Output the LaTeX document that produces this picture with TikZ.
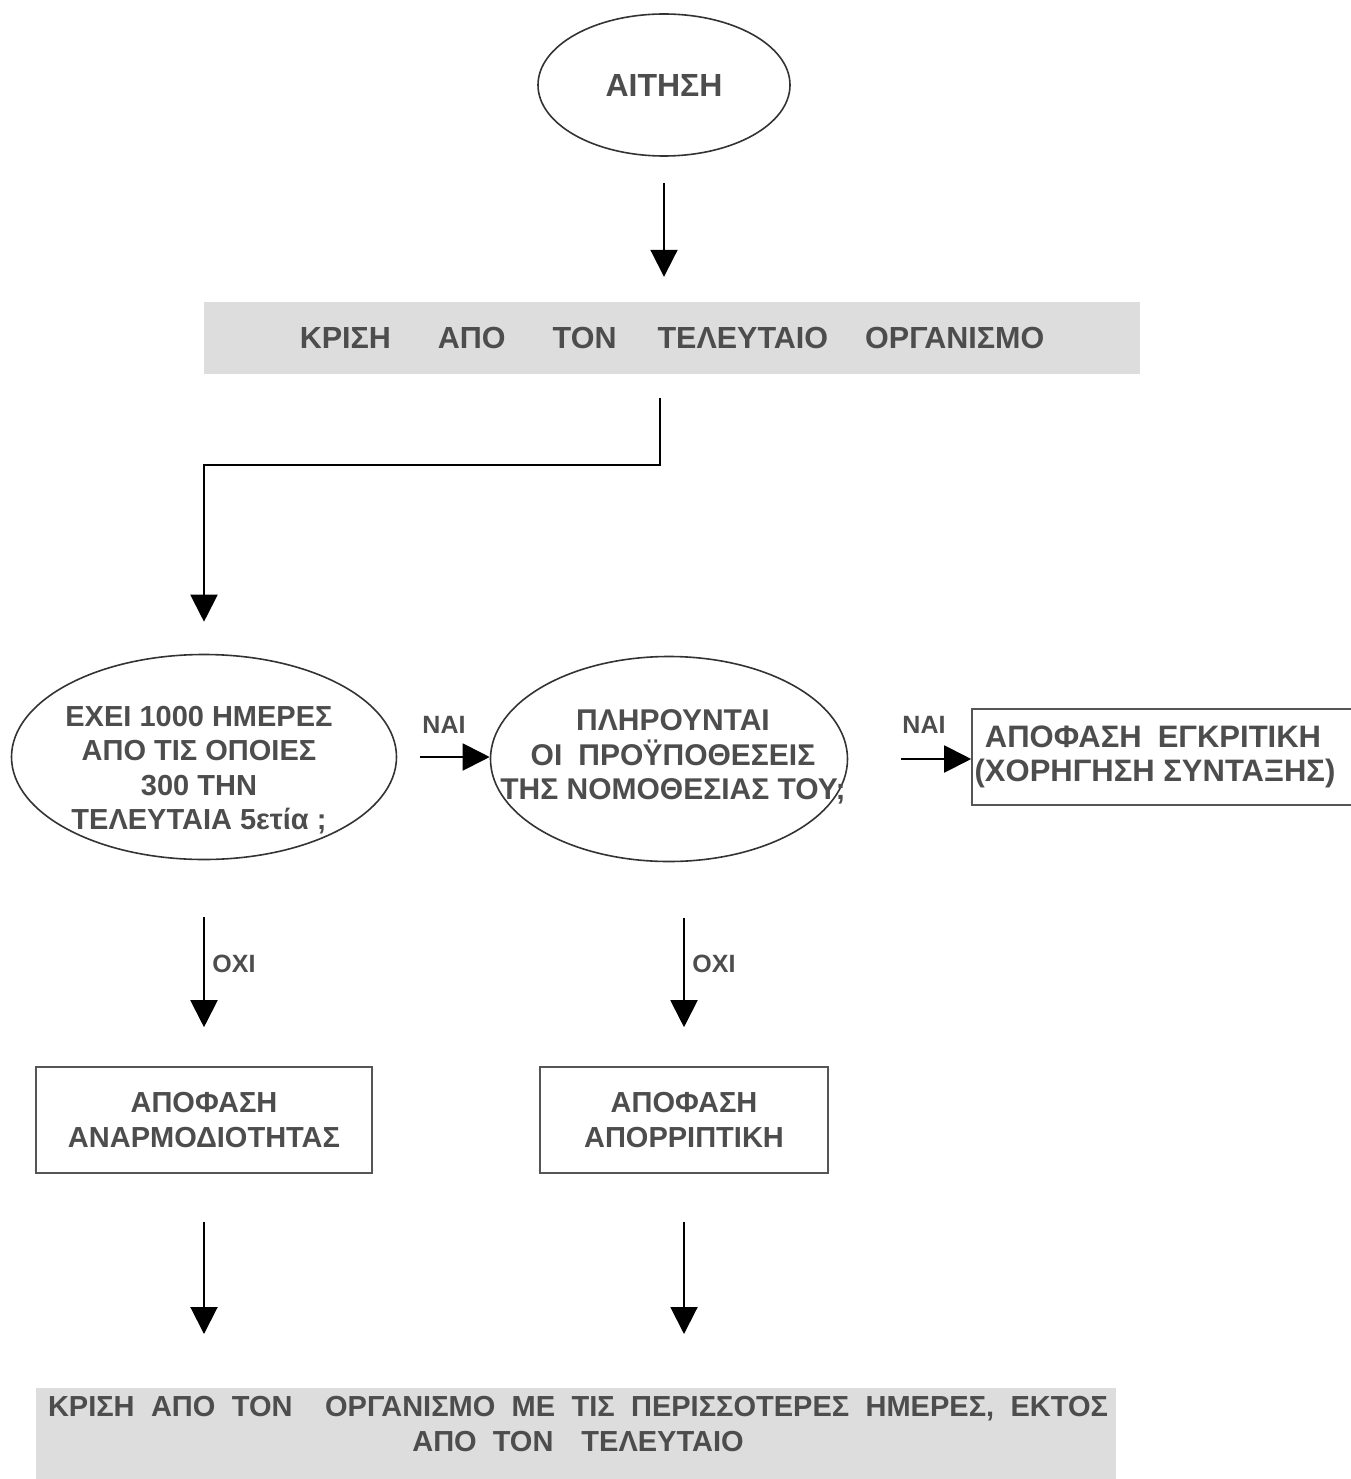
\documentclass[tikz,border=0pt]{standalone}
\usepackage{fontspec}
\setmainfont{Liberation Sans}
\usetikzlibrary{shapes.geometric,arrows.meta}
\definecolor{txt}{HTML}{4D4D4D}
\definecolor{boxgray}{HTML}{DDDDDD}
\definecolor{outl}{HTML}{333333}
\definecolor{boxline}{HTML}{555555}
\begin{document}
\begin{tikzpicture}[x=1pt,y=-1pt,
  every node/.style={text=txt, font=\fontsize{29}{34.5}\selectfont\bfseries},
  ell/.style={ellipse, draw=outl, line width=1.6pt, inner sep=0pt},
  plainbox/.style={rectangle, draw=boxline, line width=1.6pt, inner sep=0pt, align=center},
  graybox/.style={rectangle, fill=boxgray, inner sep=0pt, align=center},
  txtnode/.style={inner sep=0pt, align=center},
  lbl/.style={inner sep=0pt, font=\fontsize{25}{30}\selectfont\bfseries},
  arr/.style={draw=black, line width=2pt, -{Triangle[width=27pt,length=27pt]}}]
\useasboundingbox (0,0) rectangle (1350,1479);

% nodes
\node[ell, minimum width=252pt, minimum height=142pt, font=\fontsize{32}{38}\selectfont\bfseries] (aitisi) at (664,85) {ΑΙΤΗΣΗ};
\node[graybox, minimum width=936pt, minimum height=72pt, font=\fontsize{30.5}{36}\selectfont\bfseries] (krisi1) at (672,338)
  {ΚΡΙΣΗ\hspace{47pt}ΑΠΟ\hspace{47pt}ΤΟΝ\hspace{41pt}ΤΕΛΕΥΤΑΙΟ\hspace{37pt}ΟΡΓΑΝΙΣΜΟ};

\node[ell, minimum width=385pt, minimum height=205pt] (q1) at (204,757) {};
\node[txtnode] (q1t) at (199,770) {ΕΧΕΙ 1000 ΗΜΕΡΕΣ\\ΑΠΟ ΤΙΣ ΟΠΟΙΕΣ\\300 ΤΗΝ\\ΤΕΛΕΥΤΑΙΑ 5ετία ;};

\node[ell, minimum width=357pt, minimum height=205pt] (q2) at (669,759) {};
\node[txtnode, font=\fontsize{30}{34.5}\selectfont\bfseries] (q2t) at (673,757) {ΠΛΗΡΟΥΝΤΑΙ\\ΟΙ\hspace{16pt}ΠΡΟΫΠΟΘΕΣΕΙΣ\\ΤΗΣ ΝΟΜΟΘΕΣΙΑΣ ΤΟΥ;};

\node[plainbox, minimum width=380pt, minimum height=96pt, font=\fontsize{31}{34.5}\selectfont\bfseries] (yes) at (1162,757)
  {ΑΠΟΦΑΣΗ\hspace{16pt}ΕΓΚΡΙΤΙΚΗ\hspace*{18pt}\\(ΧΟΡΗΓΗΣΗ ΣΥΝΤΑΞΗΣ)\hspace*{14pt}};

\node[lbl] (nai1) at (444,725) {ΝΑΙ};
\node[lbl] (nai2) at (924,725) {ΝΑΙ};
\node[lbl] (oxi1) at (234,964) {ΟΧΙ};
\node[lbl] (oxi2) at (714,964) {ΟΧΙ};

\node[plainbox, minimum width=336pt, minimum height=106pt] (anar) at (204,1120)
  {ΑΠΟΦΑΣΗ\\ΑΝΑΡΜΟΔΙΟΤΗΤΑΣ};
\node[plainbox, minimum width=288pt, minimum height=106pt] (apor) at (684,1120)
  {ΑΠΟΦΑΣΗ\\ΑΠΟΡΡΙΠΤΙΚΗ};

\node[graybox, minimum width=1080pt, minimum height=110pt, anchor=north] (final) at (576,1388) {};
\node[txtnode] (finalt) at (578,1424)
  {\makebox[1060pt][s]{ΚΡΙΣΗ ΑΠΟ ΤΟΝ \ ΟΡΓΑΝΙΣΜΟ ΜΕ ΤΙΣ ΠΕΡΙΣΣΟΤΕΡΕΣ ΗΜΕΡΕΣ, ΕΚΤΟΣ}\\
   ΑΠΟ\hspace{16pt}ΤΟΝ\hspace{28pt}ΤΕΛΕΥΤΑΙΟ};

% connectors
\draw[arr, shorten <=26pt, shorten >=25pt] (aitisi.south) -- (aitisi.south |- krisi1.north);
\draw[arr, shorten >=32pt] ([xshift=-12pt,yshift=-24pt]krisi1.south) -- ++(0,67) -| (q1.north);
\draw[arr, shorten <=23pt] (q1.east) -- (q1.east -| q2.west);
\draw[arr, shorten <=53pt] (q2.east) -- (q2.east -| yes.west);
\draw[arr, shorten <=57pt, shorten >=39pt] (q1.south) -- (anar.north);
\draw[arr, shorten <=56pt, shorten >=39pt] (apor.north |- q2.south) -- (apor.north);
\draw[arr, shorten <=48pt, shorten >=54pt] (anar.south) -- (anar.south |- final.north);
\draw[arr, shorten <=48pt, shorten >=54pt] (apor.south) -- (apor.south |- final.north);
\end{tikzpicture}
\end{document}
